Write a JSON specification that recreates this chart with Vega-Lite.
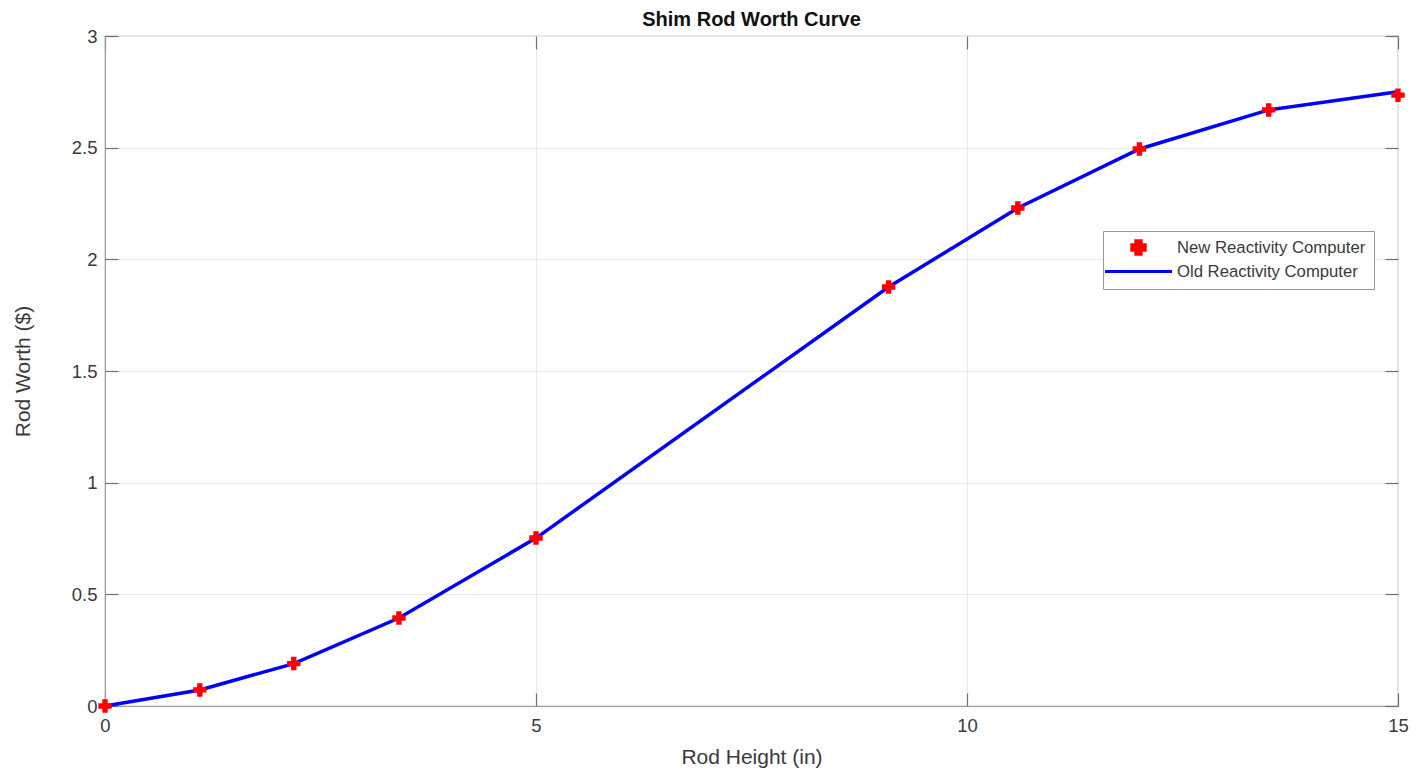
{
  "$schema": "https://vega.github.io/schema/vega-lite/v6.json",
  "width": 1293,
  "height": 670,
  "autosize": "none",
  "padding": {"left": 105, "top": 36, "right": 18, "bottom": 68},
  "background": "white",
  "title": {
    "text": "Shim Rod Worth Curve",
    "font": "Liberation Sans",
    "fontSize": 20,
    "fontWeight": "bold",
    "color": "#111111",
    "offset": -3
  },
  "datasets": {
    "old": [
      {"height": 0, "worth": 0.0},
      {"height": 1.1, "worth": 0.072},
      {"height": 2.19, "worth": 0.19},
      {"height": 3.41, "worth": 0.394},
      {"height": 5.0, "worth": 0.752},
      {"height": 9.09, "worth": 1.876},
      {"height": 10.59, "worth": 2.23},
      {"height": 12.0, "worth": 2.494},
      {"height": 13.5, "worth": 2.669},
      {"height": 15.0, "worth": 2.75}
    ],
    "new": [
      {"height": 0, "worth": 0.0},
      {"height": 1.1, "worth": 0.072},
      {"height": 2.19, "worth": 0.19},
      {"height": 3.41, "worth": 0.394},
      {"height": 5.0, "worth": 0.752},
      {"height": 9.09, "worth": 1.876},
      {"height": 10.59, "worth": 2.23},
      {"height": 12.0, "worth": 2.494},
      {"height": 13.5, "worth": 2.669},
      {"height": 15.0, "worth": 2.735}
    ]
  },
  "resolve": {"axis": {"x": "independent", "y": "independent"}},
  "layer": [
    {
      "data": {"name": "old"},
      "transform": [{"calculate": "'Old Reactivity Computer'", "as": "series"}],
      "mark": {"type": "line", "strokeWidth": 3.5, "clip": false},
      "encoding": {
        "x": {
          "field": "height", "type": "quantitative",
          "scale": {"domain": [0, 15], "nice": false, "zero": false},
          "axis": {"orient": "bottom", "title": "Rod Height (in)", "values": [0, 5, 10, 15], "ticks": false, "labelFlush": false, "labelPadding": 10, "titlePadding": 12, "grid": true}
        },
        "y": {
          "field": "worth", "type": "quantitative",
          "scale": {"domain": [0, 3], "nice": false},
          "axis": {"orient": "left", "title": "Rod Worth ($)", "values": [0, 0.5, 1, 1.5, 2, 2.5, 3], "format": "~g", "ticks": false, "labelFlush": false, "labelPadding": 8, "titlePadding": 38, "grid": true}
        },
        "color": {
          "field": "series", "type": "nominal",
          "scale": {"domain": ["New Reactivity Computer", "Old Reactivity Computer"], "range": ["#ff0000", "#0000ff"]},
          "legend": {
            "encode": {
              "symbols": {
                "update": {
                  "size": {"signal": "datum.value === 'Old Reactivity Computer' ? 4489 : 180"},
                  "fill": {"signal": "datum.value === 'Old Reactivity Computer' ? 'transparent' : '#ff0000'"},
                  "stroke": {"signal": "datum.value === 'Old Reactivity Computer' ? '#0072bd' : 'transparent'"},
                  "strokeWidth": {"value": 3},
                  "opacity": {"value": 1}
                }
              }
            }
          }
        }
      }
    },
    {
      "data": {"name": "new"},
      "transform": [{"calculate": "'New Reactivity Computer'", "as": "series"}],
      "mark": {"type": "point", "filled": true, "size": 180, "opacity": 1, "clip": false},
      "encoding": {
        "x": {"field": "height", "type": "quantitative", "axis": {"orient": "top", "labels": false, "title": null, "values": [0, 5, 10, 15], "tickSize": 13, "offset": -13, "grid": false, "domain": false}},
        "y": {"field": "worth", "type": "quantitative", "axis": {"orient": "right", "labels": false, "title": null, "values": [0, 0.5, 1, 1.5, 2, 2.5, 3], "tickSize": 13, "offset": -13, "grid": false, "domain": false}},
        "color": {
          "field": "series", "type": "nominal",
          "legend": {
            "encode": {
              "symbols": {
                "update": {
                  "size": {"signal": "datum.value === 'Old Reactivity Computer' ? 4489 : 180"},
                  "fill": {"signal": "datum.value === 'Old Reactivity Computer' ? 'transparent' : '#ff0000'"},
                  "stroke": {"signal": "datum.value === 'Old Reactivity Computer' ? '#0072bd' : 'transparent'"},
                  "strokeWidth": {"value": 3},
                  "opacity": {"value": 1}
                }
              }
            }
          }
        },
        "shape": {
          "field": "series", "type": "nominal",
          "scale": {"domain": ["New Reactivity Computer", "Old Reactivity Computer"], "range": ["cross", "stroke"]},
          "legend": {
            "encode": {
              "symbols": {
                "update": {
                  "size": {"signal": "datum.value === 'Old Reactivity Computer' ? 4489 : 180"},
                  "fill": {"signal": "datum.value === 'Old Reactivity Computer' ? 'transparent' : '#ff0000'"},
                  "stroke": {"signal": "datum.value === 'Old Reactivity Computer' ? '#0072bd' : 'transparent'"},
                  "strokeWidth": {"value": 3},
                  "opacity": {"value": 1}
                }
              }
            }
          }
        }
      }
    },
    {
      "data": {"name": "old"},
      "mark": {"type": "line", "strokeOpacity": 0, "clip": false},
      "encoding": {
        "x": {"field": "height", "type": "quantitative", "axis": {"orient": "bottom", "labels": false, "title": null, "values": [0, 5, 10, 15], "tickSize": 13, "offset": -13, "grid": false, "domain": false}},
        "y": {"field": "worth", "type": "quantitative", "axis": {"orient": "left", "labels": false, "title": null, "values": [0, 0.5, 1, 1.5, 2, 2.5, 3], "tickSize": 13, "offset": -13, "grid": false, "domain": false}}
      }
    }
  ],
  "config": {
    "font": "Liberation Sans",
    "view": {"stroke": "#9a9a9a", "strokeWidth": 1.2},
    "axis": {
      "labelFont": "Liberation Sans",
      "titleFont": "Liberation Sans",
      "labelFontSize": 18.5,
      "labelColor": "#3a3a3a",
      "titleFontSize": 21,
      "titleFontWeight": "normal",
      "titleColor": "#3a3a3a",
      "domainColor": "#9a9a9a",
      "tickColor": "#6f6f6f",
      "tickWidth": 1.2,
      "gridColor": "#e8e8e8",
      "gridWidth": 1
    },
    "legend": {
      "title": null,
      "orient": "none",
      "legendX": 998,
      "legendY": 195,
      "fillColor": "white",
      "strokeColor": "#9a9a9a",
      "padding": 8,
      "labelFont": "Liberation Sans",
      "labelFontSize": 16.7,
      "labelColor": "#3a3a3a",
      "labelLimit": 400,
      "symbolSize": 256,
      "symbolOffset": 19,
      "labelOffset": 30,
      "rowPadding": 2,
      "symbolOpacity": 1,
      "symbolStrokeWidth": 3
    }
  }
}
